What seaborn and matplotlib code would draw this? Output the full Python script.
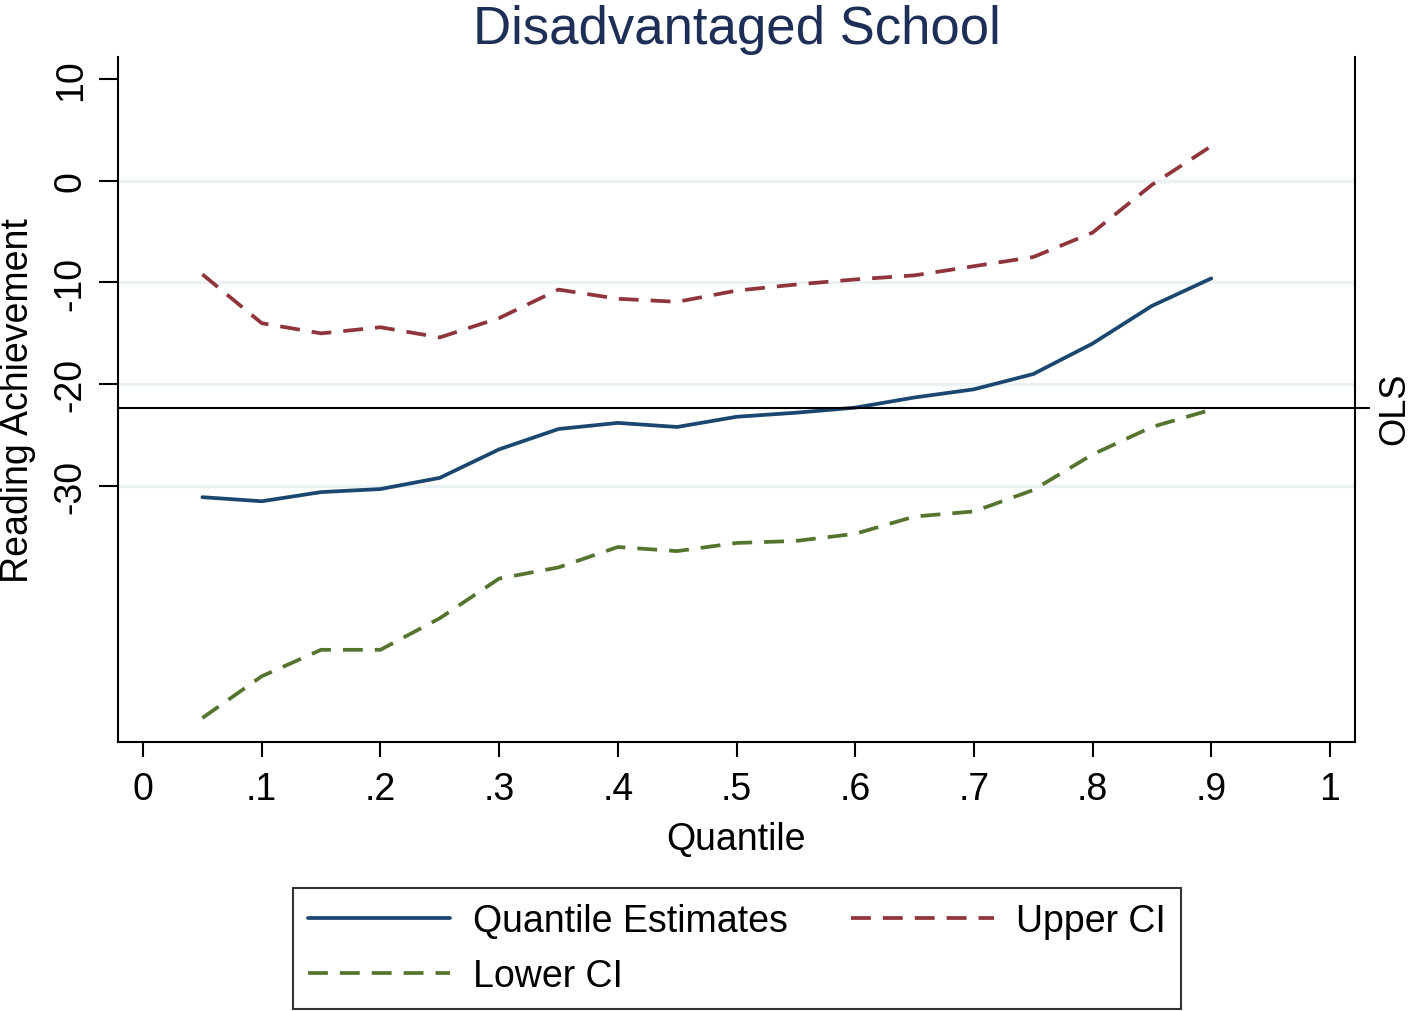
import matplotlib
matplotlib.use("Agg")
import matplotlib.pyplot as plt
import seaborn as sns
import pandas as pd

quantiles = [0.05, 0.10, 0.15, 0.20, 0.25, 0.30, 0.35, 0.40, 0.45, 0.50,
             0.55, 0.60, 0.65, 0.70, 0.75, 0.80, 0.85, 0.90]
estimates = [-31.1, -31.5, -30.6, -30.3, -29.2, -26.4, -24.4, -23.8, -24.2, -23.2,
             -22.8, -22.3, -21.3, -20.5, -19.0, -16.0, -12.3, -9.6]
upper_ci = [-9.2, -14.0, -15.0, -14.4, -15.4, -13.5, -10.7, -11.6, -11.9, -10.8,
            -10.2, -9.7, -9.3, -8.4, -7.5, -5.1, -0.4, 3.4]
lower_ci = [-52.8, -48.7, -46.1, -46.1, -43.0, -39.1, -38.0, -36.0, -36.4, -35.6,
            -35.4, -34.7, -33.0, -32.5, -30.4, -26.9, -24.2, -22.5]
ols_value = -22.35

x_ticks = [0, 0.1, 0.2, 0.3, 0.4, 0.5, 0.6, 0.7, 0.8, 0.9, 1.0]
x_tick_labels = ["0", ".1", ".2", ".3", ".4", ".5", ".6", ".7", ".8", ".9", "1"]
y_ticks = [10, 0, -10, -20, -30]
y_tick_labels = ["10", "0", "-10", "-20", "-30"]
grid_values = [0, -10, -20, -30]

title = "Disadvantaged School"
x_label = "Quantile"
y_label = "Reading Achievement"
series_names = ["Quantile Estimates", "Upper CI", "Lower CI"]

df = pd.DataFrame({"q": quantiles, "est": estimates, "up": upper_ci, "lo": lower_ci})

sns.set_theme(style="white")
plt.rcParams["font.family"] = ["Liberation Sans", "DejaVu Sans"]
plt.rcParams["text.color"] = "black"
plt.rcParams["axes.labelcolor"] = "black"
plt.rcParams["xtick.color"] = "black"
plt.rcParams["ytick.color"] = "black"

W, H = 1413, 1012
fig = plt.figure(figsize=(W / 100, H / 100), dpi=100)
ax = fig.add_axes([118 / W, 1 - 743 / H, (1355 - 118) / W, (743 - 58) / H])

navy = "#1a476f"
maroon = "#90353b"
green = "#55752f"
lw = 2.7
dash = (0, (5.3, 3.2))
fs = 27

# gridlines
for g in grid_values:
    ax.axhline(g, color="#eaf2f3", lw=2.4, zorder=0)

sns.lineplot(data=df, x="q", y="est", ax=ax, color=navy, lw=lw, label=series_names[0])
sns.lineplot(data=df, x="q", y="up", ax=ax, color=maroon, lw=lw, linestyle=dash,
             label=series_names[1])
sns.lineplot(data=df, x="q", y="lo", ax=ax, color=green, lw=lw, linestyle=dash,
             label=series_names[2])

ax.axhline(ols_value, color="black", lw=1.5, zorder=3)

ax.set_xlim(-0.0211, 1.0211)
ax.set_ylim(-55.16, 12.16)

ax.set_xticks(x_ticks)
ax.set_xticklabels(x_tick_labels)
ax.set_yticks(y_ticks)
ax.set_yticklabels(y_tick_labels, rotation=90, va="center")

for side in ["left", "right", "bottom"]:
    ax.spines[side].set_visible(True)
    ax.spines[side].set_color("black")
    ax.spines[side].set_linewidth(1.5)
ax.spines["top"].set_visible(False)

ax.tick_params(axis="x", direction="out", length=11, width=1.5, color="black",
               labelsize=fs, pad=10, bottom=True, labelcolor="black")
ax.tick_params(axis="y", direction="out", length=14, width=1.5, color="black",
               labelsize=fs, pad=7, left=True, labelcolor="black")

ax.set_xlabel(x_label, fontsize=fs, labelpad=10, color="black")
ax.set_ylabel(y_label, fontsize=fs, labelpad=12, color="black")
ax.set_title(title, fontsize=38, color="#1e2f57", pad=10)

# OLS on right axis
ax2 = ax.twinx()
ax2.set_ylim(ax.get_ylim())
ax2.set_yticks([ols_value])
ax2.set_yticklabels(["OLS"], rotation=90, va="center")
ax2.tick_params(axis="y", direction="out", length=11, width=1.5, color="black",
                labelsize=26, pad=5, right=True, labelcolor="black")
for s in ax2.spines.values():
    s.set_visible(False)
ax2.grid(False)

handles, labels = ax.get_legend_handles_labels()
ax.get_legend().remove()
order = [0, 2, 1]
leg = fig.legend([handles[i] for i in order], [labels[i] for i in order],
                 ncol=2, loc="lower center", bbox_to_anchor=(737 / W, 1 - 1010 / H),
                 fontsize=fs, frameon=True, fancybox=False, edgecolor="black",
                 handlelength=3.8, handletextpad=0.6, columnspacing=1.7,
                 labelspacing=0.5, borderpad=0.4, borderaxespad=0)
leg.get_frame().set_linewidth(1.5)
for t in leg.get_texts():
    t.set_color("black")

fig.savefig("out.png", dpi=100, facecolor="white")
